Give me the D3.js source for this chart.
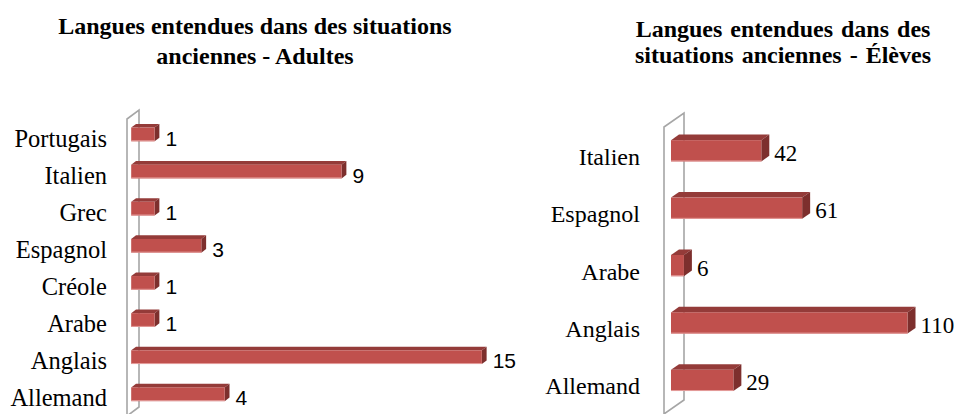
<!DOCTYPE html>
<html>
<head>
<meta charset="utf-8">
<script src="https://cdn.jsdelivr.net/npm/d3@7"></script>
<style>
  html, body { margin: 0; padding: 0; background: #fff; }
  svg { display: block; }
</style>
</head>
<body>
<div id="chart"></div>
<script>
const adultCategories = ["Portugais", "Italien", "Grec", "Espagnol", "Créole", "Arabe", "Anglais", "Allemand"];
const adultValues = [1, 9, 1, 3, 1, 1, 15, 4];
const studentCategories = ["Italien", "Espagnol", "Arabe", "Anglais", "Allemand"];
const studentValues = [42, 61, 6, 110, 29];
const adultTitle = ["Langues entendues dans des situations", "anciennes - Adultes"];
const studentTitle = ["Langues entendues dans des", "situations anciennes - Élèves"];

const svg = d3.select("#chart").append("svg")
  .attr("width", 960)
  .attr("height", 414);

svg.append("rect").attr("width", 960).attr("height", 414).attr("fill", "#fff");

function drawPanel(opt) {
  const g = svg.append("g");

  // title
  g.append("text")
    .attr("text-anchor", "middle")
    .attr("font-family", "'Liberation Serif', 'Times New Roman', serif")
    .attr("font-weight", "bold")
    .attr("font-size", 24)
    .attr("word-spacing", opt.titleSpacing)
    .selectAll("tspan")
    .data(opt.title)
    .enter().append("tspan")
    .attr("x", opt.titleX)
    .attr("y", (d, i) => opt.titleY[i])
    .text(d => d);

  const x = d3.scaleLinear().domain([0, opt.max]).range([0, opt.plotWidth]);
  const y = d3.scaleBand().domain(opt.categories).range([opt.top, opt.bottom]).padding(0);

  const dx = opt.depth[0], dy = opt.depth[1];
  const x0 = opt.wallX;

  // side wall (3D back plane)
  const wall = d3.path();
  wall.moveTo(x0, opt.bottom);
  wall.lineTo(x0, opt.top);
  wall.lineTo(x0 + dx, opt.top + dy);
  wall.lineTo(x0 + dx, opt.bottom + dy);
  wall.lineTo(x0, opt.bottom);
  g.append("path")
    .attr("d", wall.toString())
    .attr("fill", "none")
    .attr("stroke", "#a6a6a6")
    .attr("stroke-width", 1.6);

  // bars sit between front (f0) and back (f1) of the depth
  const f0 = 0.35, f1 = 0.75;
  const bx = x0 + f0 * dx;
  const ddx = (f1 - f0) * dx, ddy = (f1 - f0) * dy;
  const h = y.bandwidth() * 0.37;

  const rows = opt.categories.map((c, i) => ({ name: c, value: opt.values[i] }));
  const bars = g.selectAll(".bar").data(rows).enter().append("g").attr("class", "bar");

  const yTop = d => y(d.name) + y.bandwidth() / 2 + f0 * dy - h / 2;

  bars.append("path")
    .attr("fill", "#943b39")
    .attr("d", d => {
      const t = yTop(d), w = x(d.value);
      return "M" + bx + "," + t + "L" + (bx + w) + "," + t +
        "L" + (bx + w + ddx) + "," + (t + ddy) + "L" + (bx + ddx) + "," + (t + ddy) + "Z";
    });

  bars.append("path")
    .attr("fill", "#7d2f2d")
    .attr("d", d => {
      const t = yTop(d), w = x(d.value);
      return "M" + (bx + w) + "," + t + "L" + (bx + w + ddx) + "," + (t + ddy) +
        "L" + (bx + w + ddx) + "," + (t + h + ddy) + "L" + (bx + w) + "," + (t + h) + "Z";
    });

  bars.append("rect")
    .attr("x", bx)
    .attr("y", d => yTop(d))
    .attr("width", d => x(d.value))
    .attr("height", h)
    .attr("fill", "#c0504d");

  bars.append("line")
    .attr("x1", bx)
    .attr("x2", d => bx + x(d.value))
    .attr("y1", d => yTop(d) + h - 0.5)
    .attr("y2", d => yTop(d) + h - 0.5)
    .attr("stroke", "#e49c9a")
    .attr("stroke-width", 1);

  // value labels
  bars.append("text")
    .attr("x", d => bx + x(d.value) + ddx + opt.valueGap)
    .attr("y", d => y(d.name) + y.bandwidth() / 2 + opt.valueDy)
    .attr("font-family", opt.valueFont)
    .attr("font-size", opt.valueSize)
    .attr("fill", "#000")
    .text(d => d.value);

  // category labels
  g.selectAll(".cat")
    .data(opt.categories)
    .enter().append("text")
    .attr("class", "cat")
    .attr("x", opt.labelX)
    .attr("y", d => y(d) + y.bandwidth() / 2 + opt.labelDy)
    .attr("text-anchor", "end")
    .attr("font-family", "'Liberation Serif', 'Times New Roman', serif")
    .attr("font-size", opt.labelSize)
    .attr("fill", "#000")
    .text(d => d);
}

drawPanel({
  title: adultTitle, titleX: 255, titleY: [34, 64], titleSpacing: 0,
  categories: adultCategories, values: adultValues, max: 16, plotWidth: 374,
  wallX: 127, top: 119, bottom: 416, depth: [12, -9],
  labelX: 107, labelSize: 24.5, labelDy: 9,
  valueFont: "'Liberation Sans', Arial, sans-serif", valueSize: 21, valueGap: 6, valueDy: 8
});

drawPanel({
  title: studentTitle, titleX: 783, titleY: [37, 63], titleSpacing: 2,
  categories: studentCategories, values: studentValues, max: 120, plotWidth: 258,
  wallX: 664, top: 127, bottom: 414, depth: [20, -14],
  labelX: 640, labelSize: 24, labelDy: 9,
  valueFont: "'Liberation Serif', 'Times New Roman', serif", valueSize: 23, valueGap: 5, valueDy: 5
});
</script>
</body>
</html>
